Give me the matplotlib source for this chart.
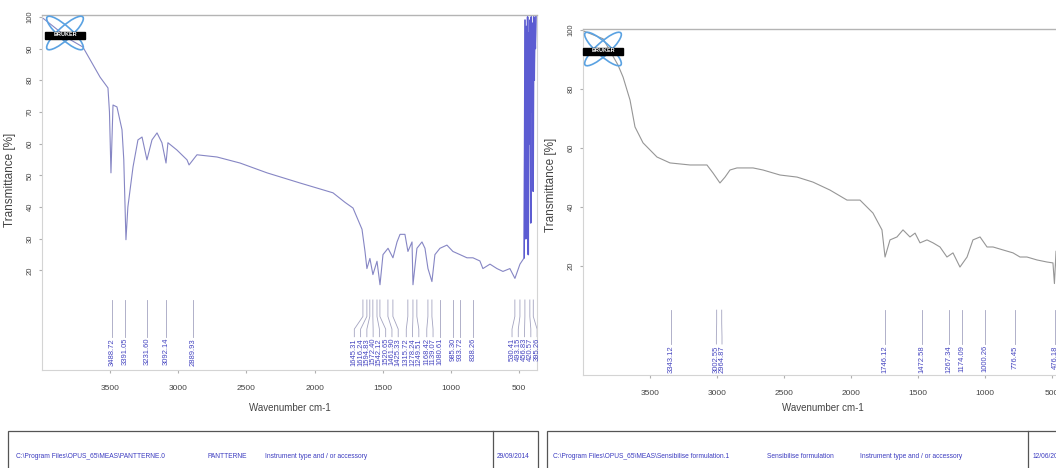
import numpy as np
import matplotlib
matplotlib.use("Agg")
import matplotlib.pyplot as plt
from matplotlib.patches import Ellipse, Rectangle

plt.rcParams['font.family'] = ['Liberation Sans', 'DejaVu Sans']

# ---------------- data ----------------
left_wn = [3990, 3800, 3700, 3574, 3516, 3505, 3494, 3479, 3450, 3413, 3400, 3384, 3370,
           3332, 3296, 3266, 3230, 3193, 3156, 3120, 3090, 3076, 3010, 2936, 2921, 2863,
           2716, 2547, 2349, 2107, 1865, 1777, 1718, 1652, 1630, 1616, 1594, 1572, 1542,
           1520, 1498, 1461, 1425, 1395, 1373, 1337, 1315, 1285, 1278, 1249, 1212, 1190,
           1168, 1139, 1117, 1080, 1029, 985, 933, 882, 838, 787, 765, 713, 662, 618, 567,
           530, 493, 462, 456, 450, 446, 441, 437, 432, 428, 423, 419, 414, 410, 405, 400,
           396, 392, 388, 384, 380, 376]
left_T = [99.5, 93, 90.5, 81, 77.6, 70, 50.8, 72.2, 71.6, 64.4, 55, 29.7, 40,
          52.7, 61.2, 62.1, 54.9, 61.2, 63.4, 60.3, 53.9, 60.3, 58, 54.9, 53.3, 56.5,
          55.8, 53.9, 50.8, 47.6, 44.5, 41.5, 39.7, 33, 26, 20.6, 23.8, 18.7, 22.9,
          15.5, 25, 27, 24, 29, 31.4, 31.4, 26, 29, 15.5, 27, 29, 27,
          20.6, 16.5, 25, 27, 28, 26, 25, 24, 24, 23, 20.6, 22, 20.6, 19.7, 20.6,
          17.5, 22, 24, 99, 30, 97, 40, 100, 25, 95, 60, 99, 35, 100, 70, 98,
          45, 100, 80, 97, 90, 100]

right_wn = [3990, 3850, 3739, 3701, 3649, 3612, 3552, 3448, 3351, 3201, 3075, 3030, 2978,
            2940, 2903, 2851, 2731, 2657, 2530, 2403, 2284, 2157, 2030, 1933, 1836, 1769,
            1746, 1709, 1657, 1612, 1560, 1522, 1485, 1433, 1388, 1336, 1284, 1239, 1187,
            1134, 1090, 1037, 985, 940, 866, 791, 739, 687, 612, 537, 493, 482, 470, 460,
            450, 440, 430]
right_T = [99.5, 97, 88.1, 84.0, 76.2, 67.1, 61.7, 56.9, 54.9, 54.2, 54.2, 51.5, 48.1,
           50.1, 52.5, 53.2, 53.2, 52.5, 50.8, 50.1, 48.4, 45.7, 42.3, 42.3, 37.9, 32.2,
           23.0, 28.8, 29.8, 32.2, 29.8, 31.1, 27.8, 28.8, 27.8, 26.4, 23.0, 24.4, 19.6,
           23.0, 28.8, 29.8, 26.4, 26.4, 25.4, 24.4, 23.0, 23.0, 22.0, 21.3, 21.0, 14,
           25, 10, 22, 12, 18]

left_peaks = [3488.72, 3391.05, 3231.60, 3092.14, 2889.93,
              1645.31, 1616.24, 1594.83, 1572.40, 1542.12, 1520.65, 1461.90, 1425.33,
              1315.72, 1278.24, 1249.51, 1168.42, 1139.07, 1080.61,
              985.30, 933.72, 838.26, 530.41, 493.15, 456.83, 420.57, 395.26]
right_peaks = [3343.12, 3002.55, 2964.87, 1746.12, 1472.58, 1267.34, 1174.09,
               1000.26, 776.45, 476.18]

xticks = [3500, 3000, 2500, 2000, 1500, 1000, 500]
left_yticks = [20, 30, 40, 50, 60, 70, 80, 90, 100]
right_yticks = [20, 40, 60, 80, 100]

left_footer = ["C:\\Program Files\\OPUS_65\\MEAS\\PANTTERNE.0", "PANTTERNE",
               "Instrument type and / or accessory", "29/09/2014"]
right_footer = ["C:\\Program Files\\OPUS_65\\MEAS\\Sensibilise formulation.1",
                "Sensibilise formulation", "Instrument type and / or accessory", "12/06/2015"]

# ---------------- layout helpers ----------------
W, H = 1056, 468
fig = plt.figure(figsize=(W / 100, H / 100), dpi=100)


def fx(px):
    return px / W


def fy(py):
    return 1 - py / H


def spread(pos, gap, iters=500):
    p = np.array(pos, float)
    order = np.argsort(-p)
    q = p[order].copy()
    for _ in range(iters):
        moved = False
        for i in range(1, len(q)):
            d = q[i - 1] - q[i]
            if d < gap - 1e-6:
                s = (gap - d) / 2
                q[i - 1] += s
                q[i] -= s
                moved = True
        if not moved:
            break
    out = np.empty_like(q)
    out[order] = q
    return out


LABEL_BLUE = '#4646c0'
LINE_C = '#a4a4c0'


def peak_labels(ax, peaks, gap, ys, fs):
    y0, y1, y2, y3 = ys
    labs = spread(peaks, gap)
    for wn, lx in zip(peaks, labs):
        ax.plot([wn, wn, lx, lx], [y0, y1, y2, y3], color=LINE_C, lw=0.6, zorder=2)
        ax.text(lx, y3 - 0.4, f"{wn:.2f}", rotation=90, ha='center', va='top',
                fontsize=fs, color=LABEL_BLUE, zorder=3)


def logo(cx, cy):
    w, h = 44, 40
    a = fig.add_axes([fx(cx - w / 2), fy(cy + h / 2), w / W, h / H])
    a.set_xlim(-w / 2, w / 2)
    a.set_ylim(-h / 2, h / 2)
    a.axis('off')
    for ang in (42, -42):
        a.add_patch(Ellipse((0, 0), 48, 13, angle=ang, fill=False, ec='#5aa2e2',
                            lw=1.2, clip_on=False))
    a.add_patch(Rectangle((-20, -5.5), 40, 7, color='black', clip_on=False))
    a.text(0, -2, 'BRUKER', color='white', fontsize=4, fontweight='bold',
           ha='center', va='center')


def panel(l, r, t, b, xlim, ylim, wn, T, color, yticks, peaks, gap, ys, lab_xy,
          band_color=None, band_below=None):
    ax = fig.add_axes([fx(l), fy(b), (r - l) / W, (b - t) / H])
    wn = np.asarray(wn, float)
    T = np.asarray(T, float)
    ax.plot(wn, T, color=color, lw=0.8, zorder=4)
    if band_color is not None:
        m = wn <= band_below
        ax.plot(wn[m], T[m], color=band_color, lw=1.1, zorder=5)
    ax.set_xlim(*xlim)
    ax.set_ylim(*ylim)
    ax.set_xticks(xticks)
    ax.set_yticks(yticks)
    ax.tick_params(axis='x', length=2, pad=9, labelsize=6, colors='#b0b0b0',
                   labelcolor='#444444')
    ax.tick_params(axis='y', length=2, pad=4, labelsize=5.5, colors='#b0b0b0',
                   labelcolor='#444444')
    for lab in ax.get_yticklabels():
        lab.set_rotation(90)
        lab.set_va('center')
    for s in ('left', 'bottom', 'right'):
        ax.spines[s].set_color('#d4d4d4')
        ax.spines[s].set_linewidth(0.8)
    ax.spines['top'].set_color('#b4b4b4')
    ax.spines['top'].set_linewidth(1.0)
    ax.set_xlabel('Wavenumber cm-1', fontsize=7, color='#444444')
    ax.xaxis.set_label_coords(0.5, -(403 - b) / (b - t))
    ax.set_ylabel('Transmittance [%]', fontsize=8.5, color='#444444')
    ax.yaxis.set_label_coords(lab_xy[0], lab_xy[1])
    peak_labels(ax, peaks, gap, ys, 5.5)
    return ax


panel(42, 537, 15, 370, (4000, 368), (-11.4, 100.6), left_wn, left_T,
      '#8686c4', left_yticks, left_peaks, 46, (10.7, 5.5, 1.5, -0.9),
      (-0.052, 0.535), band_color='#5c5cd2', band_below=462)
panel(583, 1063, 29, 375, (4000, 418), (-17.0, 100.3), right_wn, right_T,
      '#969696', right_yticks, right_peaks, 42, (5.0, 0.5, -4.0, -6.5),
      (-0.054, 0.55))
logo(65, 33)
logo(603, 49)


def footer(x0, x1, xdiv, texts, xs):
    fig.add_artist(Rectangle((fx(x0), fy(480)), (x1 - x0) / W, (480 - 431) / H,
                             fill=False, ec='#555555', lw=0.9, transform=fig.transFigure))
    fig.add_artist(plt.Line2D([fx(xdiv), fx(xdiv)], [fy(431), fy(480)], color='#555555',
                              lw=0.9, transform=fig.transFigure))
    for txt, x in zip(texts, xs):
        fig.text(fx(x), fy(457), txt, fontsize=4.8, color='#3c3cc0', ha='left', va='center')


footer(8, 538, 493, left_footer, [16, 208, 265, 497])
footer(547, 1075, 1028, right_footer, [553, 767, 860, 1033])

fig.savefig('out.png', dpi=100)
